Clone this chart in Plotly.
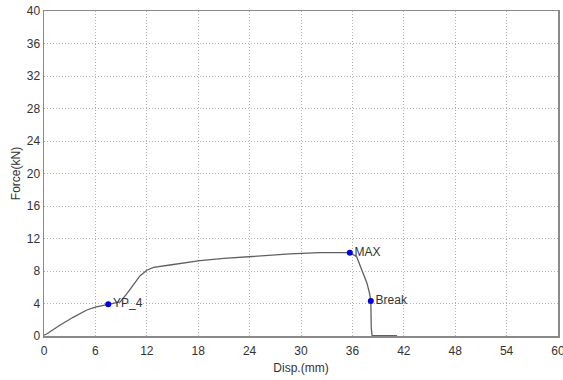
import plotly.graph_objects as go

disp = [0, 0.3, 1.9, 3.4, 5.0, 6.0, 7.5, 8.9, 9.7, 10.8, 11.2, 12.0, 12.8, 14.7, 18.2, 21.0,
        24.0, 28.7, 32.2, 35.7, 36.5, 37.1, 37.7, 38.0, 38.15, 38.2, 38.3, 41.2]
force = [0.1, 0.25, 1.35, 2.3, 3.2, 3.55, 3.9, 4.2, 5.25, 6.9, 7.4, 8.1, 8.45, 8.74, 9.27, 9.55,
         9.76, 10.1, 10.25, 10.25, 9.75, 8.1, 6.5, 5.25, 4.3, 1.0, 0.05, 0.05]

pt_names = ["YP_4", "MAX", "Break"]
pt_disp = [7.5, 35.7, 38.15]
pt_force = [3.9, 10.25, 4.3]

x_ticks = [0, 6, 12, 18, 24, 30, 36, 42, 48, 54, 60]
y_ticks = [0, 4, 8, 12, 16, 20, 24, 28, 32, 36, 40]

fig = go.Figure()
fig.add_trace(go.Scatter(x=disp, y=force, mode="lines",
                         line=dict(color="#606060", width=1.3), showlegend=False,
                         hoverinfo="skip"))
fig.add_trace(go.Scatter(x=pt_disp, y=pt_force, mode="markers+text", text=pt_names,
                         textposition="middle right",
                         textfont=dict(size=12, color="#333333", family="Liberation Sans"),
                         marker=dict(color="#0000dd", size=6), showlegend=False))

axis_common = dict(showline=True, linecolor="#8a8a8a", linewidth=1.5, mirror=True,
                   showgrid=True, gridcolor="#b0b0b0", griddash="1px,2px", gridwidth=1,
                   zeroline=False, ticks="", tickfont=dict(size=12, color="#333333"),
                   title_font=dict(size=12, color="#333333"), automargin=False,
                   ticklabeloverflow="allow")

fig.update_xaxes(range=[0, 60], tickvals=x_ticks, title_text="Disp.(mm)",
                 title_standoff=6, ticklabelstandoff=3, **axis_common)
fig.update_yaxes(range=[0, 40], tickvals=y_ticks, title_text="Force(kN)",
                 title_standoff=3, **axis_common)

fig.update_layout(width=563, height=380, margin=dict(l=44, r=5, t=11, b=44),
                  plot_bgcolor="white", paper_bgcolor="white",
                  font=dict(family="Liberation Sans", size=12, color="#333333"))

# remove the page's default 8px body margin so the figure fills the window exactly
fig.write_html("out.html", config={"displayModeBar": False, "staticPlot": True},
               post_script="document.body.style.margin='0px';document.body.style.overflow='hidden';")
